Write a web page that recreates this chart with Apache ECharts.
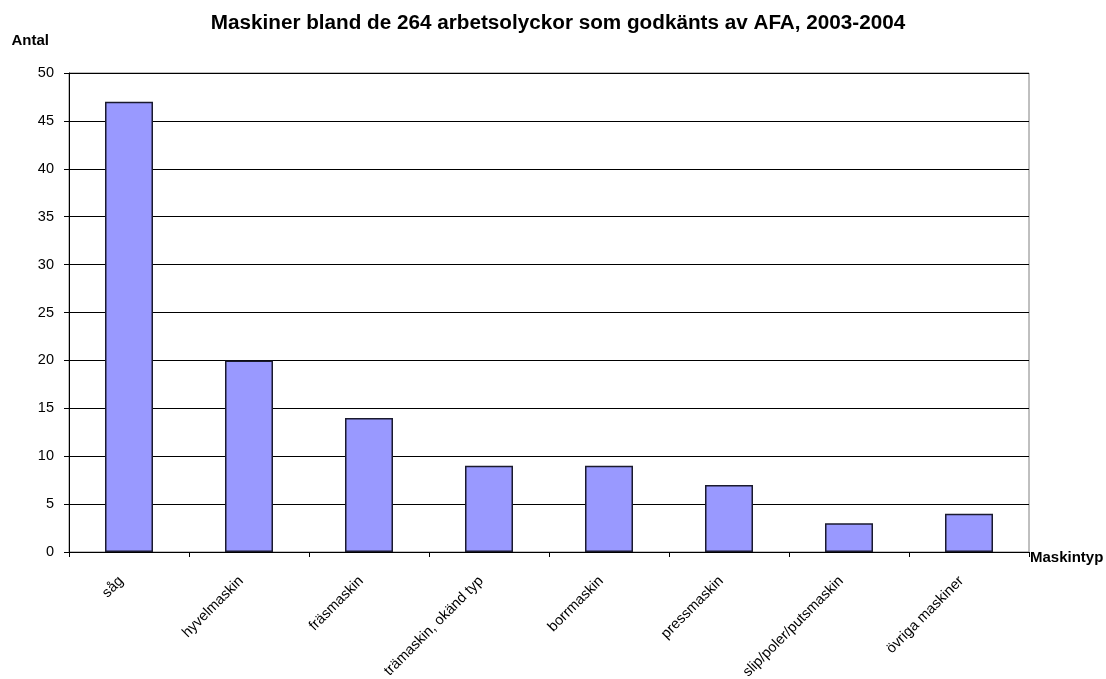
<!DOCTYPE html>
<html>
<head>
<meta charset="utf-8">
<script src="https://cdn.jsdelivr.net/npm/echarts@6/dist/echarts.min.js"></script>
<style>
  html, body { margin: 0; padding: 0; background: #fff; }
  #chart { width: 1106px; height: 679px; }
</style>
</head>
<body>
<div id="chart"></div>
<script>
// Machine types involved in the approved work accidents
const categories = ['såg', 'hyvelmaskin', 'fräsmaskin', 'trämaskin, okänd typ', 'borrmaskin', 'pressmaskin', 'slip/poler/putsmaskin', 'övriga maskiner'];
const counts = [47, 20, 14, 9, 9, 7, 3, 4];
const yTicks = { min: 0, max: 50, interval: 5 };

const font = 'Liberation Sans, Arial, sans-serif';
const chart = echarts.init(document.getElementById('chart'), null, { renderer: 'canvas' });

chart.setOption({
  animation: false,
  backgroundColor: '#ffffff',
  title: {
    text: 'Maskiner bland de 264 arbetsolyckor som godkänts av AFA, 2003-2004',
    left: 553,
    textAlign: 'center',
    top: 8,
    textStyle: { fontFamily: font, fontSize: 20.7, fontWeight: 'bold', color: '#000' }
  },
  grid: {
    left: 69, right: 77, top: 73, bottom: 127,
    outerBoundsMode: 'none',
    containLabel: false,
    show: true, borderColor: '#808080', borderWidth: 1
  },
  xAxis: {
    type: 'category',
    data: categories,
    name: 'Maskintyp',
    nameLocation: 'end',
    nameGap: 1,
    nameTextStyle: { fontFamily: font, fontSize: 15, fontWeight: 'bold', color: '#000', align: 'left', verticalAlign: 'top', lineHeight: 11 },
    axisLine: { lineStyle: { color: '#000', width: 1 } },
    axisTick: { show: true, alignWithLabel: false, length: 5, lineStyle: { color: '#000' } },
    axisLabel: { rotate: 45, interval: 0, margin: 19, padding: [0, 11, 0, 0], fontFamily: font, fontSize: 14.5, color: '#000' }
  },
  yAxis: {
    type: 'value',
    min: yTicks.min,
    max: yTicks.max,
    interval: yTicks.interval,
    name: 'Antal',
    nameLocation: 'end',
    nameGap: 25,
    nameTextStyle: { fontFamily: font, fontSize: 15, fontWeight: 'bold', color: '#000', align: 'right', padding: [0, 20, 0, 0] },
    axisLine: { show: true, lineStyle: { color: '#000', width: 1 } },
    axisTick: { show: true, length: 5, lineStyle: { color: '#000' } },
    axisLabel: { margin: 15, fontFamily: font, fontSize: 14.5, color: '#000' },
    splitLine: { show: true, lineStyle: { color: '#000', width: 1 } }
  },
  series: [{
    type: 'bar',
    data: counts,
    barWidth: 48,
    itemStyle: { color: '#9999FF', borderColor: '#1a1a2e', borderWidth: 1.5 }
  }]
});
</script>
</body>
</html>
